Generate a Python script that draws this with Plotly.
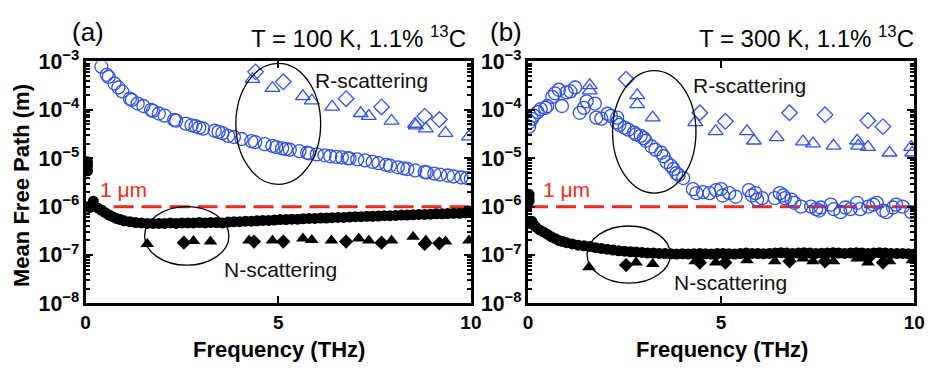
import plotly.graph_objects as go

# ---------------- Panel (a): T = 100 K ----------------
a_R_circ_f = [0.41, 0.55, 0.6, 0.75, 0.85, 0.95, 1.15, 1.2, 1.35, 1.5, 1.7, 1.75, 1.9, 2.05, 2.3, 2.35,
              2.6, 2.75, 2.85, 2.95, 3.05, 3.35, 3.45, 3.55, 3.7, 3.85, 4.05, 4.3, 4.4, 4.65, 4.85, 4.95,
              5.1, 5.2, 5.3, 5.55, 5.75, 5.8, 6.0, 6.2, 6.35, 6.5, 6.65, 6.8, 6.85, 7.05, 7.25, 7.45,
              7.6, 7.8, 7.9, 8.1, 8.25, 8.35, 8.55, 8.8, 8.85, 9.05, 9.2, 9.4, 9.55, 9.75, 9.9, 10.0]
a_R_circ_v = [7.8e-4, 5.3e-4, 4.8e-4, 3.5e-4, 2.9e-4, 2.4e-4, 1.7e-4, 1.6e-4, 1.35e-4, 1.2e-4, 1.0e-4, 9.5e-5,
              8.4e-5, 7.6e-5, 6.2e-5, 6.0e-5, 5.2e-5, 4.8e-5, 4.6e-5, 4.3e-5, 4.1e-5, 3.7e-5, 3.5e-5, 3.3e-5,
              2.9e-5, 2.75e-5, 2.5e-5, 2.25e-5, 2.15e-5, 1.95e-5, 1.8e-5, 1.7e-5, 1.6e-5, 1.55e-5, 1.5e-5,
              1.4e-5, 1.3e-5, 1.26e-5, 1.2e-5, 1.15e-5, 1.1e-5, 1.07e-5, 1.04e-5, 1.0e-5, 9.9e-6, 9.5e-6,
              9.0e-6, 8.4e-6, 7.9e-6, 7.3e-6, 7.0e-6, 6.5e-6, 6.2e-6, 6.0e-6, 5.6e-6, 5.2e-6, 5.1e-6,
              4.8e-6, 4.6e-6, 4.4e-6, 4.2e-6, 4.0e-6, 3.9e-6, 3.8e-6]
a_R_tri_f = [4.33, 4.85, 5.64, 5.87, 6.4, 7.14, 7.35, 7.94, 8.55, 8.57, 8.83, 9.34, 9.95]
a_R_tri_v = [4.3e-4, 2.8e-4, 1.9e-4, 1.55e-4, 1.15e-4, 8.5e-5, 7.4e-5, 5.9e-5, 5.1e-5, 4.7e-5, 4.1e-5, 3.3e-5, 2.8e-5]
a_R_dia_f = [4.41, 5.13, 6.76, 7.68, 8.8, 9.18]
a_R_dia_v = [6.1e-4, 3.8e-4, 1.7e-4, 1.15e-4, 7.4e-5, 6.3e-5]

a_N_circ_f = [0.05, 0.05, 0.05, 0.05, 0.1, 0.2, 0.3, 0.4, 0.5, 0.6, 0.7, 0.8, 0.9, 1.0, 1.15, 1.3, 1.45,
              1.6, 1.75, 1.9, 2.05, 2.2, 2.35, 2.5, 2.65, 2.8, 2.95, 3.1, 3.25, 3.4, 3.55, 3.7, 3.85,
              4.0, 4.15, 4.3, 4.45, 4.6, 4.75, 4.9, 5.05, 5.2, 5.35, 5.5, 5.65, 5.8, 5.95, 6.1, 6.25,
              6.4, 6.55, 6.7, 6.85, 7.0, 7.15, 7.3, 7.45, 7.6, 7.75, 7.9, 8.05, 8.2, 8.35, 8.5, 8.65,
              8.8, 8.95, 9.1, 9.25, 9.4, 9.55, 9.7, 9.85, 10.0]
a_N_circ_v = [8.5e-6, 7.0e-6, 5.5e-6, 1.0e-6, 9.5e-7, 1.3e-6, 9.5e-7, 8.5e-7, 7.6e-7, 6.8e-7, 6.2e-7,
              5.7e-7, 5.4e-7, 5.1e-7, 4.9e-7, 4.7e-7, 4.6e-7, 4.5e-7, 4.5e-7, 4.5e-7, 4.5e-7, 4.6e-7,
              4.5e-7, 4.6e-7, 4.6e-7, 4.6e-7, 4.7e-7, 4.6e-7, 4.7e-7, 4.7e-7, 4.6e-7, 4.8e-7, 4.9e-7,
              4.9e-7, 5.0e-7, 5.0e-7, 5.1e-7, 5.2e-7, 5.2e-7, 5.3e-7, 5.4e-7, 5.4e-7, 5.5e-7, 5.5e-7,
              5.6e-7, 5.7e-7, 5.7e-7, 5.8e-7, 5.8e-7, 5.9e-7, 6.0e-7, 6.0e-7, 6.1e-7, 6.2e-7, 6.2e-7,
              6.3e-7, 6.3e-7, 6.4e-7, 6.5e-7, 6.5e-7, 6.6e-7, 6.7e-7, 6.7e-7, 6.8e-7, 6.9e-7, 6.9e-7,
              7.0e-7, 7.1e-7, 7.1e-7, 7.2e-7, 7.3e-7, 7.3e-7, 7.4e-7, 7.5e-7]
a_N_tri_f = [1.6, 2.8, 3.24, 4.24, 4.85, 5.64, 5.87, 6.38, 7.09, 7.35, 7.94, 8.5, 8.83, 9.34, 9.95]
a_N_tri_v = [1.7e-7, 1.95e-7, 1.9e-7, 2.0e-7, 2.0e-7, 2.2e-7, 2.05e-7, 2.0e-7, 2.2e-7, 2.0e-7, 2.0e-7,
             2.4e-7, 2.0e-7, 1.9e-7, 2.0e-7]
a_N_dia_f = [2.55, 4.37, 5.13, 6.76, 7.68, 8.8, 9.18]
a_N_dia_v = [1.8e-7, 1.9e-7, 1.9e-7, 1.9e-7, 1.8e-7, 1.7e-7, 1.75e-7]

# ---------------- Panel (b): T = 300 K ----------------
b_R_circ_f = [0.03, 0.05, 0.1, 0.15, 0.25, 0.33, 0.45, 0.5, 0.63, 0.7, 0.8, 0.88, 1.0, 1.1, 1.22, 1.34,
              1.45, 1.52, 1.73, 1.77, 1.9, 2.06, 2.15, 2.3, 2.31, 2.37, 2.5, 2.6, 2.75, 2.8, 2.92, 3.0,
              3.05, 3.2, 3.3, 3.45, 3.51, 3.59, 3.7, 3.77, 3.84, 3.9, 4.02,
              4.27, 4.36, 4.53, 4.70, 4.87, 5.0, 5.04, 5.21, 5.38, 5.72, 5.80, 5.89, 5.93, 6.06, 6.39,
              6.52, 6.61, 6.65, 6.82, 6.90, 7.07, 7.33, 7.46, 7.54, 7.58, 7.84, 7.92, 8.09, 8.22, 8.35,
              8.52, 8.60, 8.81, 8.94, 9.03, 9.19, 9.28, 9.45, 9.53, 9.70, 9.92]
b_R_circ_v = [4.5e-5, 5.6e-5, 6.5e-5, 7.6e-5, 9.0e-5, 1.04e-4, 1.1e-4, 1.2e-4, 1.85e-4, 2.2e-4, 2.6e-4,
              1.2e-4, 2.3e-4, 2.4e-4, 2.9e-4, 8.7e-5, 1.1e-4, 1.5e-4, 1.35e-4, 6.9e-5, 6.6e-5, 8.3e-5,
              7.5e-5, 5.5e-5, 6.9e-5, 4.9e-5, 4.3e-5, 3.9e-5, 3.4e-5, 3.1e-5, 2.9e-5, 2.6e-5, 2.3e-5,
              1.75e-5, 1.5e-5, 1.3e-5, 1.1e-5, 8.3e-6, 7.0e-6, 6.0e-6, 4.9e-6, 4.5e-6, 3.9e-6,
              2.3e-6, 1.9e-6, 2.0e-6, 1.9e-6, 2.2e-6, 2.3e-6, 1.7e-6, 1.9e-6, 1.6e-6, 2.2e-6, 1.7e-6,
              1.9e-6, 1.4e-6, 1.5e-6, 1.5e-6, 1.9e-6, 1.7e-6, 1.5e-6, 1.4e-6, 1.2e-6, 1.0e-6, 1.0e-6,
              8.9e-7, 8.3e-7, 9.6e-7, 1.1e-6, 8.9e-7, 7.7e-7, 9.6e-7, 8.9e-7, 1.2e-6, 8.9e-7, 1.0e-6,
              1.1e-6, 1.2e-6, 8.3e-7, 7.7e-7, 9.6e-7, 1.1e-6, 1.0e-6, 7.7e-7]
b_R_tri_f = [1.6, 1.6, 2.83, 2.83, 3.23, 4.33, 4.86, 5.67, 5.85, 6.44, 7.12, 7.38, 7.91, 8.52, 8.55, 8.8,
             9.36, 9.92, 9.95]
b_R_tri_v = [3.2e-4, 2.5e-4, 2.0e-4, 1.3e-4, 6.9e-5, 5.5e-5, 3.6e-5, 3.6e-5, 2.3e-5, 2.7e-5, 2.2e-5,
             2.0e-5, 1.8e-5, 2.3e-5, 1.8e-5, 1.7e-5, 1.3e-5, 1.7e-5, 1.3e-5]
b_R_dia_f = [2.54, 4.45, 5.11, 6.77, 7.69, 8.8, 9.19]
b_R_dia_v = [4.3e-4, 8.7e-5, 5.8e-5, 8.7e-5, 7.9e-5, 6.0e-5, 4.5e-5]

b_N_circ_f = [0.03, 0.03, 0.03, 0.05, 0.1, 0.15, 0.2, 0.3, 0.4, 0.5, 0.6, 0.7, 0.8, 0.9, 1.0, 1.15, 1.3,
              1.45, 1.6, 1.75, 1.9, 2.05, 2.2, 2.35, 2.5, 2.65, 2.8, 2.95, 3.1, 3.25, 3.4, 3.55, 3.7,
              3.85, 4.0, 4.15, 4.3, 4.45, 4.6, 4.75, 4.9, 5.05, 5.2, 5.35, 5.5, 5.65, 5.8, 5.95, 6.1,
              6.25, 6.4, 6.55, 6.7, 6.85, 7.0, 7.15, 7.3, 7.45, 7.6, 7.75, 7.9, 8.05, 8.2, 8.35, 8.5,
              8.65, 8.8, 8.95, 9.1, 9.25, 9.4, 9.55, 9.7, 9.85, 10.0]
b_N_circ_v = [1.8e-6, 1.5e-6, 1.3e-6, 4.5e-7, 5.0e-7, 4.2e-7, 3.8e-7, 3.3e-7, 3.0e-7, 2.7e-7, 2.4e-7,
              2.2e-7, 2.0e-7, 1.9e-7, 1.8e-7, 1.7e-7, 1.6e-7, 1.55e-7, 1.5e-7, 1.42e-7, 1.37e-7, 1.32e-7,
              1.27e-7, 1.22e-7, 1.2e-7, 1.17e-7, 1.15e-7, 1.13e-7, 1.1e-7, 1.1e-7, 1.08e-7, 1.07e-7,
              1.06e-7, 1.05e-7, 1.06e-7, 1.05e-7, 1.06e-7, 1.07e-7, 1.06e-7, 1.05e-7, 1.07e-7, 1.08e-7,
              1.06e-7, 1.05e-7, 1.07e-7, 1.1e-7, 1.08e-7, 1.07e-7, 1.06e-7, 1.08e-7, 1.1e-7, 1.12e-7,
              1.1e-7, 1.08e-7, 1.1e-7, 1.12e-7, 1.1e-7, 1.08e-7, 1.09e-7, 1.1e-7, 1.12e-7, 1.1e-7,
              1.08e-7, 1.1e-7, 1.12e-7, 1.1e-7, 1.08e-7, 1.1e-7, 1.12e-7, 1.1e-7, 1.08e-7, 1.07e-7,
              1.08e-7, 1.06e-7, 1.05e-7]
b_N_tri_f = [1.58, 2.8, 3.23, 4.33, 4.86, 5.67, 6.39, 7.12, 7.38, 7.91, 8.52, 8.8, 9.36, 9.95]
b_N_tri_v = [5.6e-8, 7.0e-8, 6.5e-8, 7.4e-8, 7.0e-8, 7.8e-8, 7.4e-8, 8.5e-8, 7.4e-8, 7.4e-8, 8.5e-8,
             7.0e-8, 7.4e-8, 7.8e-8]
b_N_dia_f = [2.54, 4.45, 5.11, 6.77, 7.69, 8.8, 9.19]
b_N_dia_v = [6.2e-8, 7.0e-8, 7.0e-8, 7.4e-8, 7.4e-8, 8.5e-8, 7.0e-8]

ref_f = [0, 10]
ref_v = [1e-6, 1e-6]

x_ticks = [0, 5, 10]
panel_labels = ["(a)", "(b)"]
panel_titles = ["T = 100 K, 1.1% <sup>13</sup>C", "T = 300 K, 1.1% <sup>13</sup>C"]

BLUE = "#2f52e8"
RED = "#ee2a1e"
FONT = "Liberation Sans, Arial, sans-serif"

W, H = 939, 375
fig = go.Figure()

panels = [
    (a_R_circ_f, a_R_circ_v, a_R_tri_f, a_R_tri_v, a_R_dia_f, a_R_dia_v,
     a_N_circ_f, a_N_circ_v, a_N_tri_f, a_N_tri_v, a_N_dia_f, a_N_dia_v),
    (b_R_circ_f, b_R_circ_v, b_R_tri_f, b_R_tri_v, b_R_dia_f, b_R_dia_v,
     b_N_circ_f, b_N_circ_v, b_N_tri_f, b_N_tri_v, b_N_dia_f, b_N_dia_v),
]

for i, p in enumerate(panels):
    xa = "x" if i == 0 else "x2"
    ya = "y" if i == 0 else "y2"
    (rcf, rcv, rtf, rtv, rdf, rdv, ncf, ncv, ntf, ntv, ndf, ndv) = p
    fig.add_trace(go.Scatter(x=ref_f, y=ref_v, mode="lines", xaxis=xa, yaxis=ya,
                             line=dict(color=RED, width=3, dash="20px,8px"), showlegend=False))
    fig.add_trace(go.Scatter(x=rcf, y=rcv, mode="markers", xaxis=xa, yaxis=ya, showlegend=False,
                             marker=dict(symbol="circle-open", size=13, color=BLUE, line=dict(width=1.3))))
    fig.add_trace(go.Scatter(x=rtf, y=rtv, mode="markers", xaxis=xa, yaxis=ya, showlegend=False,
                             marker=dict(symbol="triangle-up-open", size=13, color=BLUE, line=dict(width=1.3))))
    fig.add_trace(go.Scatter(x=rdf, y=rdv, mode="markers", xaxis=xa, yaxis=ya, showlegend=False,
                             marker=dict(symbol="diamond-open", size=12, color=BLUE, line=dict(width=1.3))))
    fig.add_trace(go.Scatter(x=ncf, y=ncv, mode="markers", xaxis=xa, yaxis=ya, showlegend=False,
                             marker=dict(symbol="circle", size=11, color="black")))
    fig.add_trace(go.Scatter(x=ntf, y=ntv, mode="markers", xaxis=xa, yaxis=ya, showlegend=False,
                             marker=dict(symbol="triangle-up", size=12, color="black")))
    fig.add_trace(go.Scatter(x=ndf, y=ndv, mode="markers", xaxis=xa, yaxis=ya, showlegend=False,
                             marker=dict(symbol="diamond", size=11, color="black")))

xdom = [[82 / W, 474 / W], [532 / W, 925 / W]]
ydom = [1 - 311 / H, 1 - 51 / H]

axis_common = dict(showline=True, linecolor="black", linewidth=3, mirror="allticks", showgrid=False,
                   zeroline=False, ticks="inside", tickcolor="black", tickwidth=2)

for i in range(2):
    sx = "" if i == 0 else "2"
    fig.layout["xaxis" + sx] = dict(axis_common, domain=xdom[i], range=[0, 10], tickvals=x_ticks,
                                    ticklen=7, anchor="y" + sx,
                                    tickfont=dict(family=FONT, size=19, color="black", weight="bold"))
    fig.layout["yaxis" + sx] = dict(axis_common, domain=ydom, type="log", range=[-8, -3], dtick=1,
                                    exponentformat="power", ticklen=7, anchor="x" + sx,
                                    tickfont=dict(family=FONT, size=17, color="black", weight="bold"),
                                    minor=dict(ticks="inside", ticklen=4, tickwidth=1.5, tickcolor="black",
                                               showgrid=False))

annotations = []
def txt(x, y, text, size, color="black", bold=False, xanchor="center", angle=0):
    annotations.append(dict(x=x / W, y=1 - y / H, xref="paper", yref="paper", text=text, showarrow=False,
                            xanchor=xanchor, yanchor="middle", textangle=angle,
                            font=dict(family=FONT, size=size, color=color,
                                      weight="bold" if bold else "normal")))

txt(84, 19, panel_labels[0], 26)
txt(510, 19, panel_labels[1], 26)
txt(471, 25, panel_titles[0], 24, xanchor="right")
txt(927, 25, panel_titles[1], 24, xanchor="right")
txt(373, 71, "R-scattering", 21, color="#111")
txt(280, 275, "N-scattering", 21, color="#111")
txt(757, 77, "R-scattering", 21, color="#111")
txt(738, 288, "N-scattering", 21, color="#111")
txt(121, 189, "1 μm", 21, color=RED)
txt(571, 189, "1 μm", 21, color=RED)
txt(17, 184, "Mean Free Path (m)", 22, bold=True, angle=-90)
txt(279, 361, "Frequency (THz)", 22, bold=True)
txt(729, 361, "Frequency (THz)", 22, bold=True)

# ellipses (domain fractions of each panel)
ellipses = [
    ("x", "y", 0.39, 0.61, 0.492, 0.992),
    ("x", "y", 0.153, 0.372, 0.158, 0.40),
    ("x2", "y2", 0.219, 0.435, 0.456, 0.962),
    ("x2", "y2", 0.153, 0.369, 0.084, 0.32),
]
shapes = []
for xr, yr, x0, x1, y0, y1 in ellipses:
    shapes.append(dict(type="circle", xref=xr + " domain", yref=yr + " domain", x0=x0, x1=x1, y0=y0, y1=y1,
                       line=dict(color="black", width=1.3)))

fig.update_layout(width=W, height=H, margin=dict(l=0, r=0, t=0, b=0), plot_bgcolor="white",
                  paper_bgcolor="white", annotations=annotations, shapes=shapes, showlegend=False)

fig.write_html("out.html")
